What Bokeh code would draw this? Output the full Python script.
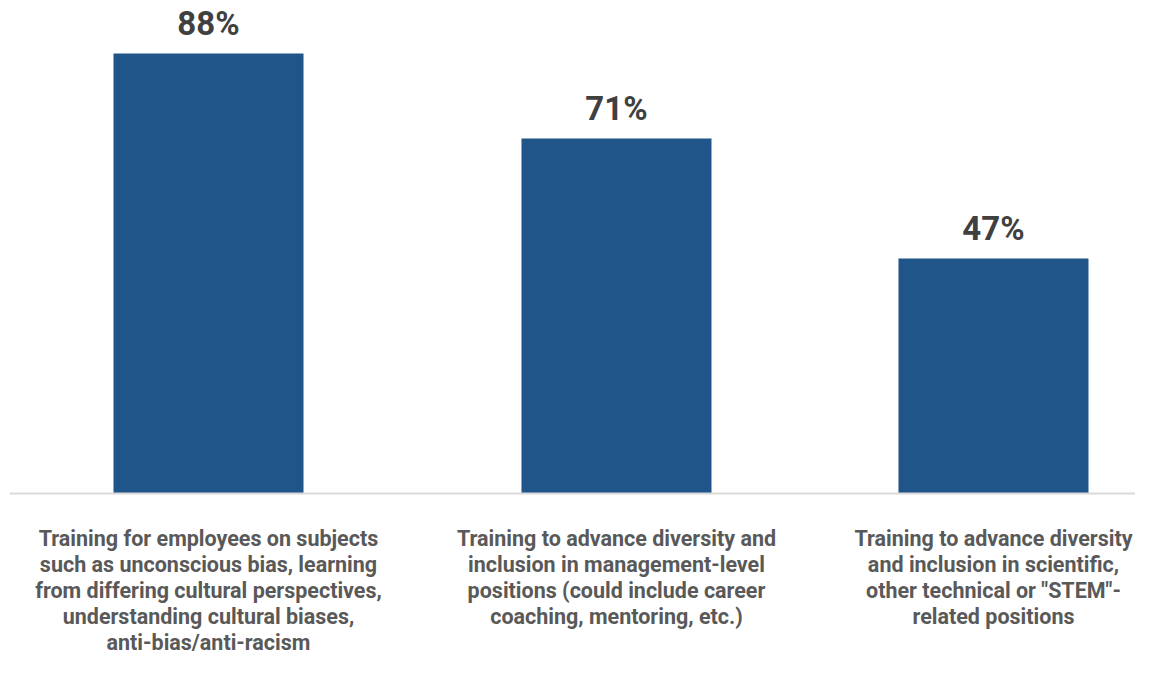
from bokeh.plotting import figure
from bokeh.models import FactorRange, Range1d, Span, ColumnDataSource
from bokeh.transform import dodge
from bokeh.core.properties import value
from bokeh.embed import file_html
from bokeh.resources import INLINE

categories = [
    "Training for employees on subjects\nsuch as unconscious bias, learning\nfrom differing cultural perspectives,\nunderstanding cultural biases,\nanti-bias/anti-racism",
    "Training to advance diversity and\ninclusion in management-level\npositions (could include career\ncoaching, mentoring, etc.)",
    "Training to advance diversity\nand inclusion in scientific,\nother technical or \"STEM\"-\nrelated positions",
]
groups = ["a", "b", "b"]
values = [88, 71, 47]
value_labels = ["88%", "71%", "47%"]

factors = list(zip(groups, categories))
source = ColumnDataSource(dict(x=factors, top=values, lab=value_labels,
                               cat=categories, zero=[0, 0, 0]))

xr = FactorRange(factors=factors, factor_padding=0.0, group_padding=0.0822,
                 range_padding=-0.04773, range_padding_units="absolute")

p = figure(width=1135, height=659, x_range=xr, y_range=Range1d(-33.2, 98.6),
           output_backend="svg", toolbar_location=None,
           x_axis_location=None, y_axis_location=None,
           min_border_left=9, min_border_right=0, min_border_top=0, min_border_bottom=0)
p.outline_line_color = None
p.xgrid.visible = False
p.ygrid.visible = False
p.background_fill_color = "white"
p.border_fill_color = "white"

shift = 0.07558
xpos = dodge("x", shift, range=xr)

p.vbar(x=xpos, top="top", width=0.504, source=source, fill_color="#1f5589", line_color=None)

p.add_layout(Span(location=0, dimension="width", line_color="#d9d9d9", line_width=2))

p.text(x=xpos, y="top", text="lab", source=source, text_align="center",
       text_baseline="bottom", y_offset=-11,
       text_font=value("Roboto"), text_font_style="bold", text_font_size="33px",
       text_color="#404040")

p.text(x=xpos, y="zero", text="cat", source=source,
       text_align="center", text_baseline="top", y_offset=32,
       text_font=value("Roboto"), text_font_style="bold", text_font_size="21.5px",
       text_color="#595959", text_line_height=1.04)

open("out.html", "w").write(file_html(p, INLINE))
